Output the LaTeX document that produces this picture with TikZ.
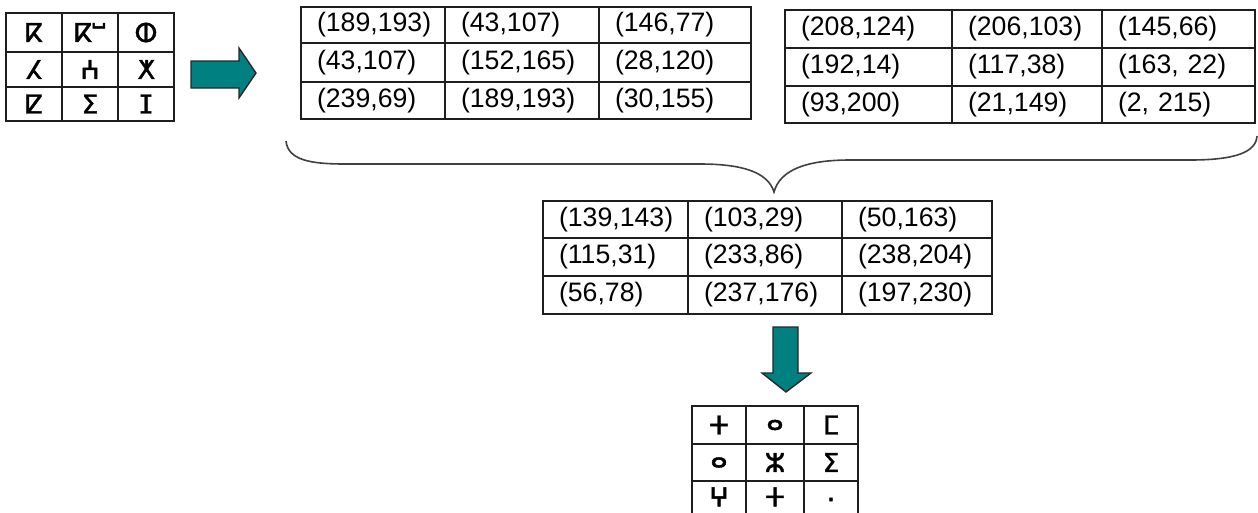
\documentclass[tikz,border=0pt]{standalone}
\usepackage{fontspec}
\setmainfont{Liberation Sans}
\newfontfamily\tifi[FakeBold=1.6]{DejaVu Sans}
\definecolor{arrowteal}{RGB}{0,128,128}
\definecolor{gridline}{RGB}{30,30,30}
\tikzset{
  cellbox/.style={draw=gridline, line width=1.2pt, inner xsep=12pt, inner ysep=0pt, align=left, font=\fontsize{20}{24}\selectfont},
  glyphbox/.style={draw=gridline, line width=1.2pt, inner sep=0pt, font=\tifi\fontsize{19.5}{22}\selectfont},
  blockarrow/.style={fill=arrowteal, draw=black!85, line width=1pt, line join=miter},
  bracestyle/.style={draw=black!75, line width=1.2pt},
}
\newcommand\tcell[6]{\node[cellbox, minimum width={3pt*(#4-#2)/4}, minimum height={3pt*(#5-#3)/4}, text width={\dimexpr 3pt*(#4-#2)/4-24pt\relax}] (#1) at ({(#2+#4)/2},{(#3+#5)/2}) {\mbox{#6}};}
\newcommand\gcell[6]{\node[glyphbox, minimum width={3pt*(#4-#2)/4}, minimum height={3pt*(#5-#3)/4}] (#1) at ({(#2+#4)/2},{(#3+#5)/2}) {#6};}
\begin{document}
\begin{tikzpicture}[x=0.75pt,y=-0.75pt]
\useasboundingbox (0,0) rectangle (1258,512);
% input table
\gcell{i11}{6}{13}{62}{52}{ⴽ}
\gcell{i12}{62}{13}{118}{52}{ⴽⵯ}
\gcell{i13}{118}{13}{174}{52}{ⵀ}
\gcell{i21}{6}{52}{62}{87}{ⵃ}
\gcell{i22}{62}{52}{118}{87}{ⵄ}
\gcell{i23}{118}{52}{174}{87}{ⵅ}
\gcell{i31}{6}{87}{62}{121}{ⵇ}
\gcell{i32}{62}{87}{118}{121}{ⵉ}
\gcell{i33}{118}{87}{174}{121}{ⵊ}
% right arrow
\draw[blockarrow] (191,61) -- (239,61) -- (239,48) -- (256,73) -- (239,98) -- (239,88) -- (191,88) -- cycle;
% table A
\tcell{a11}{301}{7}{445}{43}{(189,193)}
\tcell{a12}{445}{7}{599}{43}{(43,107)}
\tcell{a13}{599}{7}{751}{43}{(146,77)}
\tcell{a21}{301}{43}{445}{82}{(43,107)}
\tcell{a22}{445}{43}{599}{82}{(152,165)}
\tcell{a23}{599}{43}{751}{82}{(28,120)}
\tcell{a31}{301}{82}{445}{119}{(239,69)}
\tcell{a32}{445}{82}{599}{119}{(189,193)}
\tcell{a33}{599}{82}{751}{119}{(30,155)}
% table B
\tcell{b11}{785}{10}{952}{48}{(208,124)}
\tcell{b12}{952}{10}{1102}{48}{(206,103)}
\tcell{b13}{1102}{10}{1255}{48}{(145,66)}
\tcell{b21}{785}{48}{952}{86}{(192,14)}
\tcell{b22}{952}{48}{1102}{86}{(117,38)}
\tcell{b23}{1102}{48}{1255}{86}{(163, 22)}
\tcell{b31}{785}{86}{952}{123}{(93,200)}
\tcell{b32}{952}{86}{1102}{123}{(21,149)}
\tcell{b33}{1102}{86}{1255}{123}{(2, 215)}
% brace
\draw[bracestyle] (286,141) .. controls (288,160) and (310,164) .. (345,164) -- (700,164) .. controls (742,164) and (768,172) .. (774,192) .. controls (780,170) and (806,160) .. (850,160) -- (1190,160) .. controls (1236,160) and (1256,152) .. (1257,136);
% table C
\tcell{c11}{543}{201}{688}{238}{(139,143)}
\tcell{c12}{688}{201}{842}{238}{(103,29)}
\tcell{c13}{842}{201}{992}{238}{(50,163)}
\tcell{c21}{543}{238}{688}{276}{(115,31)}
\tcell{c22}{688}{238}{842}{276}{(233,86)}
\tcell{c23}{842}{238}{992}{276}{(238,204)}
\tcell{c31}{543}{276}{688}{314}{(56,78)}
\tcell{c32}{688}{276}{842}{314}{(237,176)}
\tcell{c33}{842}{276}{992}{314}{(197,230)}
% down arrow
\draw[blockarrow] (773,327) -- (798,327) -- (798,373) -- (811,373) -- (786,392) -- (762,373) -- (773,373) -- cycle;
% output table
\gcell{o11}{692}{406}{746}{444}{ⵜ}
\gcell{o12}{746}{406}{804}{444}{ⴰ}
\gcell{o13}{804}{406}{858}{444}{ⵎ}
\gcell{o21}{692}{444}{746}{481}{ⴰ}
\gcell{o22}{746}{444}{804}{481}{ⵣ}
\gcell{o23}{804}{444}{858}{481}{ⵉ}
\gcell{o31}{692}{481}{746}{518}{\raisebox{4pt}{ⵖ}}
\gcell{o32}{746}{481}{804}{518}{\raisebox{4pt}{ⵜ}}
\gcell{o33}{804}{481}{858}{518}{.}
\end{tikzpicture}
\end{document}
